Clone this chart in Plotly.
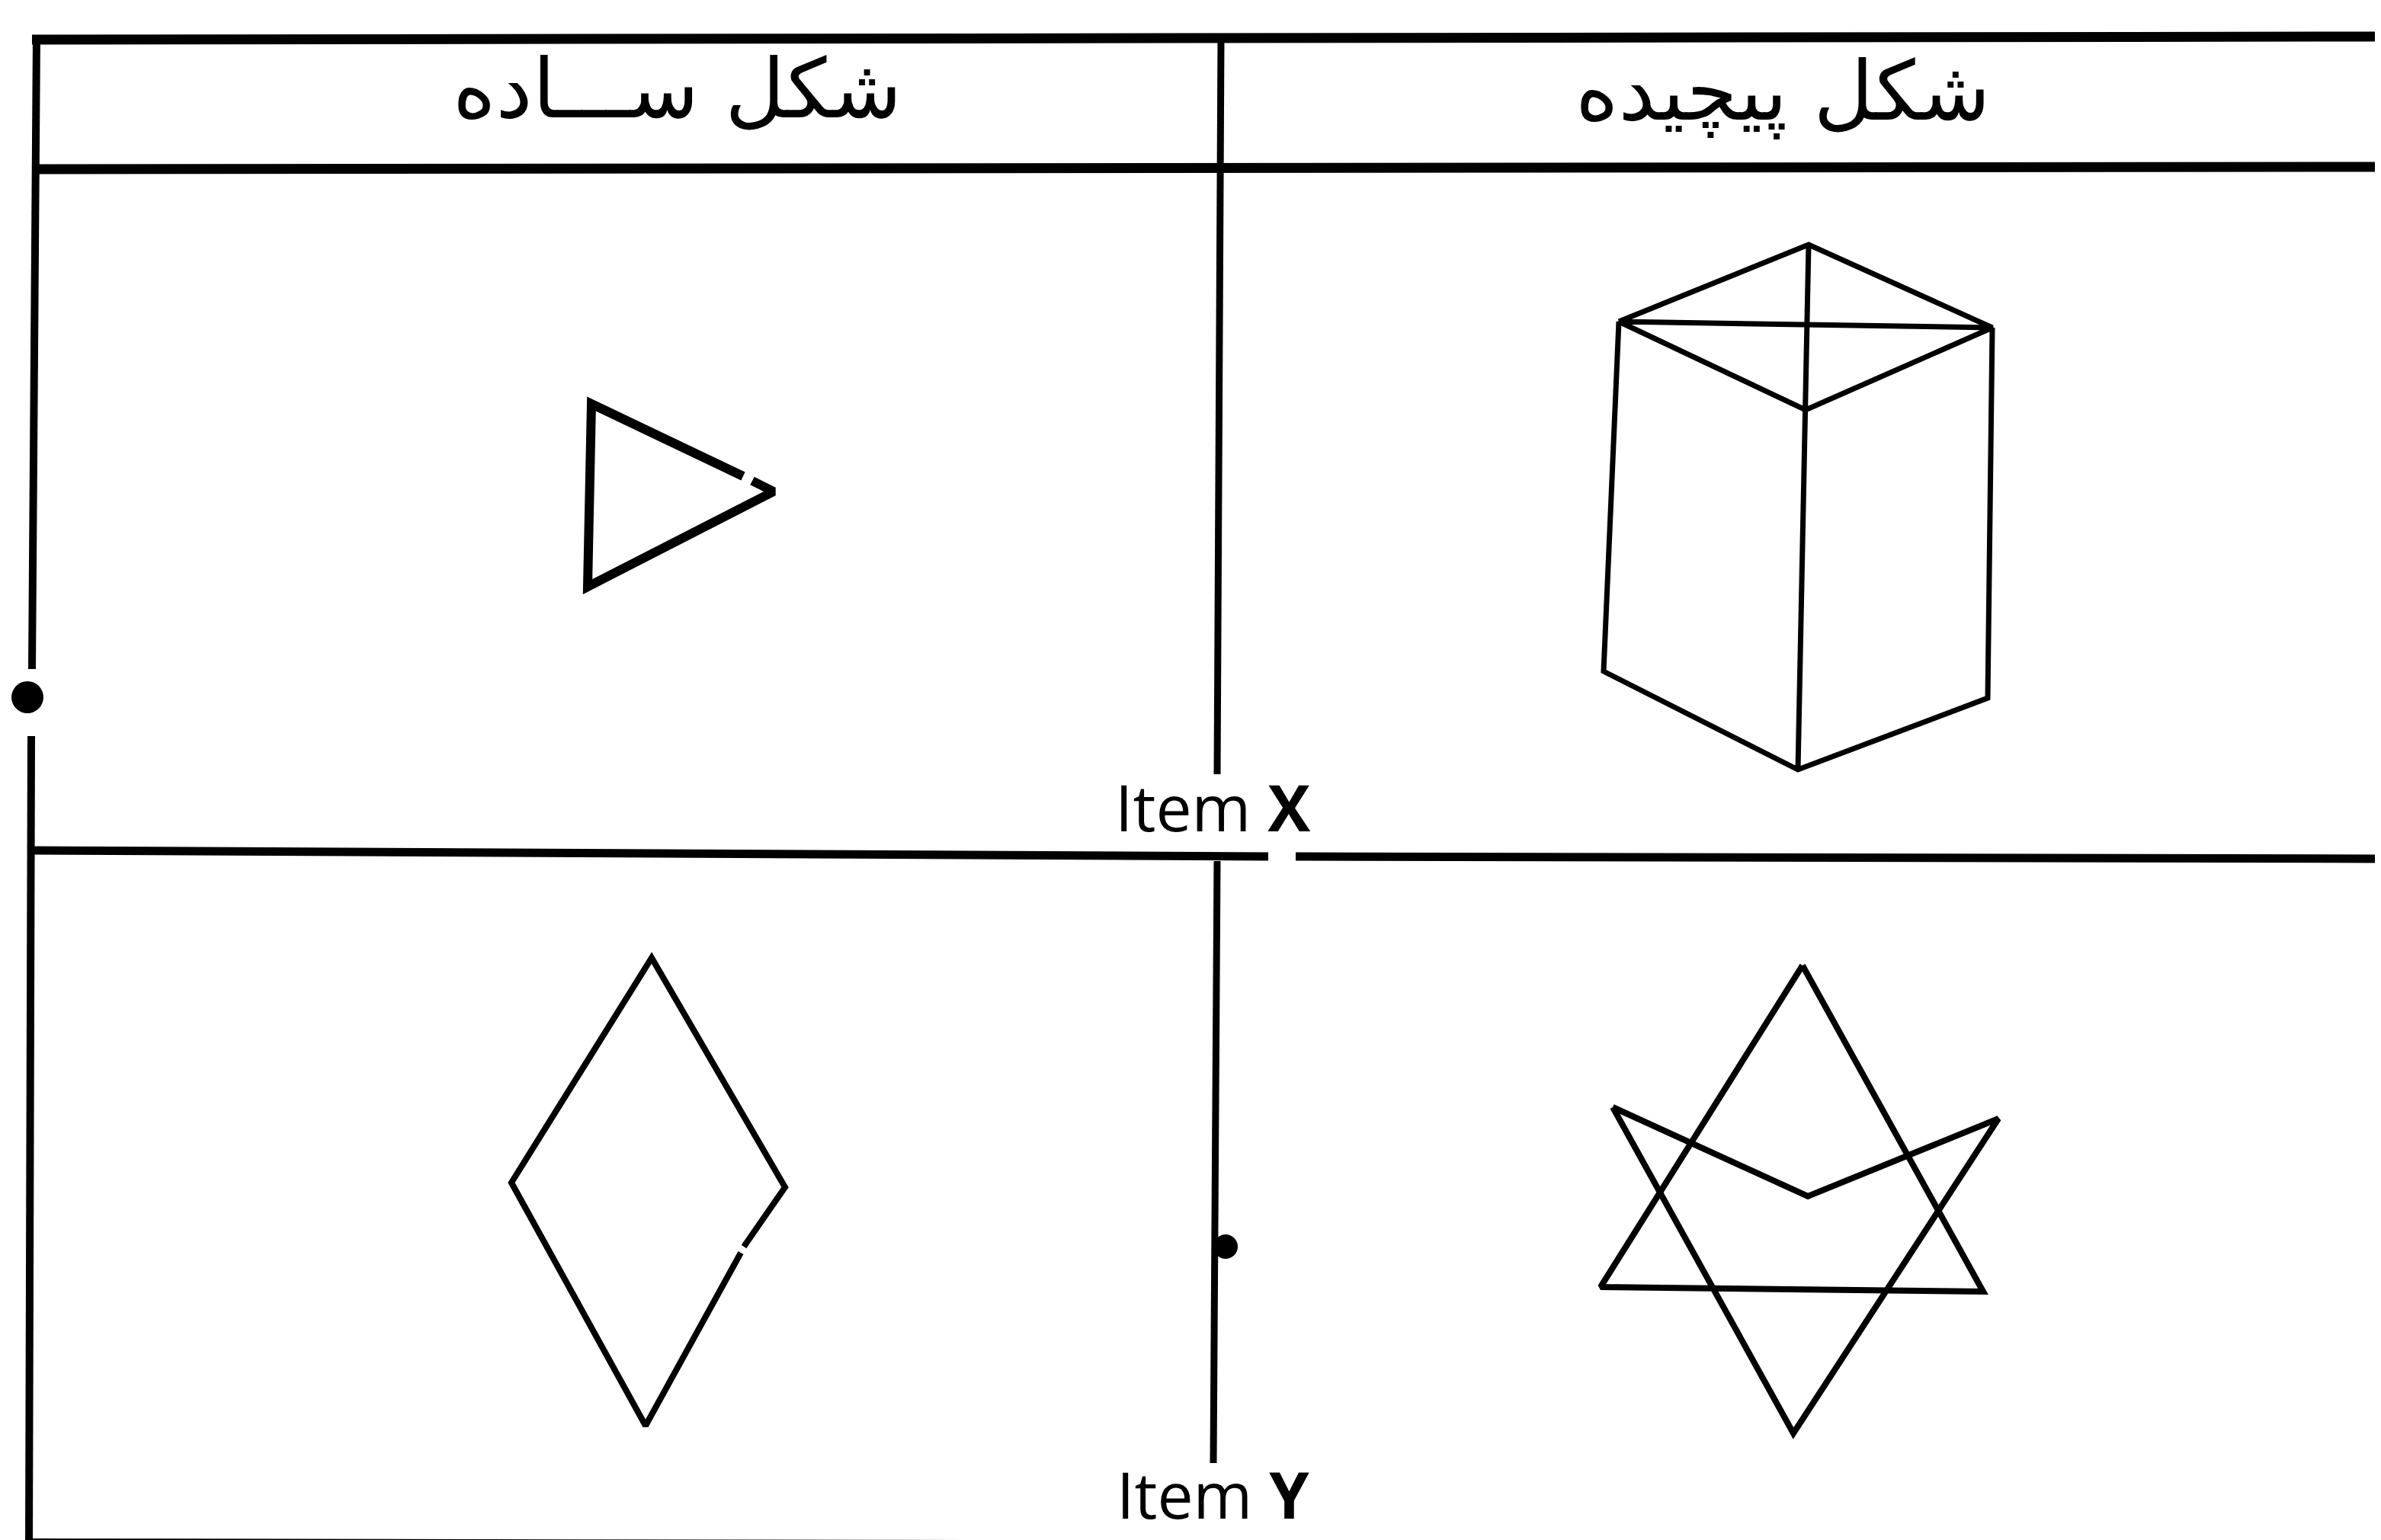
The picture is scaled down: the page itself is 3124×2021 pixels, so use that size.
import plotly.graph_objects as go

W, H = 3124, 2021

# table rules (pixel coordinates of the scanned page, y grows downward)
top_rule_x = [34, 3124]
top_rule_y = [44, 40]
head_rule_x = [34, 3124]
head_rule_y = [214, 211]
mid_rule_x = [30, 1656, None, 1692, 3124]
mid_rule_y = [1108, 1116, None, 1116, 1119]
bottom_rule_x = [30, 1283, None, 1733, 3124]
bottom_rule_y = [2015, 2017, None, 2018, 2018]
left_rule_x = [40, 34, None, 33, 30]
left_rule_y = [40, 870, None, 958, 2017]
divider_x = [1594, 1589, None, 1589, 1584]
divider_y = [40, 1008, None, 1122, 1912]

# stray scan blots
blot_x = [28, 1600]
blot_y = [907, 1628]
blot_size = [42, 32]

# simple shape 1: triangle (with the small break near the tip)
tri_x = [967, 768, 763, 1007, 979]
tri_y = [617, 522, 762, 637, 623]

# complex shape 1: box drawn with crossed top face
cube_x = [2116, 2365, 2606, 2361, 2116, 2606, None, 2365, 2361, 2351, None,
          2116, 2096, 2351, 2600, 2606]
cube_y = [414, 313, 422, 530, 414, 422, None, 313, 530, 1002, None,
          414, 873, 1002, 908, 422]

# simple shape 2: rhombus
rh_x = [968, 1022, 847, 663, 839, 964]
rh_y = [1628, 1550, 1249, 1544, 1863, 1636]

# complex shape 2: overlapping triangles
up_x = [2357, 2092, 2594, 2357]
up_y = [1259, 1681, 1687, 1259]
down_x = [2108, 2364, 2614, 2345, 2108]
down_y = [1445, 1562, 1460, 1873, 1445]

headers = ["شکل ســـاده", "شکل پیچیده"]
header_x = [880, 2331]
header_y = [108, 112]
items = ["Item <b>X</b>", "Item <b>Y</b>"]
item_x = [1583, 1583]
item_y = [1050, 1952]

fig = go.Figure()


def add_line(xs, ys, width):
    fig.add_trace(go.Scatter(x=xs, y=ys, mode="lines",
                             line=dict(color="black", width=width),
                             hoverinfo="skip", showlegend=False))


add_line(top_rule_x, top_rule_y, 13)
add_line(head_rule_x, head_rule_y, 13)
add_line(mid_rule_x, mid_rule_y, 11)
add_line(bottom_rule_x, bottom_rule_y, 8)
add_line(left_rule_x, left_rule_y, 10)
add_line(divider_x, divider_y, 9)

add_line(tri_x, tri_y, 12)
add_line(cube_x, cube_y, 7)
add_line(rh_x, rh_y, 8)
add_line(up_x, up_y, 8)
add_line(down_x, down_y, 8)

fig.add_trace(go.Scatter(x=blot_x, y=blot_y, mode="markers", opacity=1,
                         marker=dict(color="#000000", size=blot_size, opacity=1,
                                     line=dict(color="#000000", width=0)),
                         hoverinfo="skip", showlegend=False))

for t, x, y in zip(headers, header_x, header_y):
    fig.add_annotation(x=x, y=y, text=t, showarrow=False,
                       font=dict(family="DejaVu Sans", size=108, color="black"))
for t, x, y in zip(items, item_x, item_y):
    fig.add_annotation(x=x, y=y, text=t, showarrow=False,
                       font=dict(family="Open Sans", size=84, color="black"))

fig.update_xaxes(range=[0, W], visible=False, fixedrange=True)
fig.update_yaxes(range=[H, 0], visible=False, fixedrange=True)
fig.update_layout(width=W, height=H, margin=dict(l=0, r=0, t=0, b=0),
                  paper_bgcolor="white", plot_bgcolor="white")

fig.write_html("out.html")
